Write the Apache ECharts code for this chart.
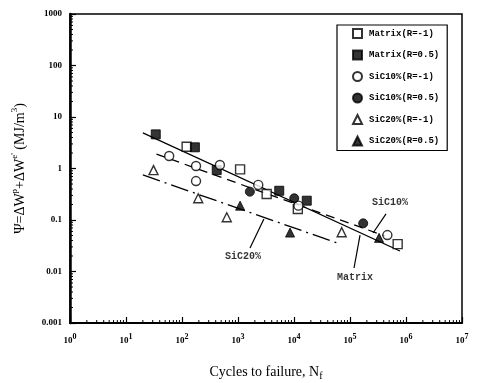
<!DOCTYPE html>
<html>
<head>
<meta charset="utf-8">
<script src="https://cdn.jsdelivr.net/npm/echarts@6/dist/echarts.min.js"></script>
<style>
  html, body { margin: 0; padding: 0; background: #fff; }
  #chart { width: 477px; height: 383px; }
</style>
</head>
<body>
<div id="chart"></div>
<script>
// Energy parameter vs. cycles to failure, log-log
const matrixR1   = [[121, 2.65], [1090, 0.96], [3250, 0.32], [11700, 0.164], [710000, 0.034]];
const matrixR05  = [[34, 4.6], [170, 2.58], [417, 0.93], [5450, 0.37], [16900, 0.237]];
const sic10R1    = [[59, 1.75], [178, 1.12], [178, 0.57], [475, 1.17], [2300, 0.48], [12000, 0.19], [465000, 0.051]];
const sic10R05   = [[1630, 0.355], [10100, 0.264], [172000, 0.086]];
const sic20R1    = [[31, 0.93], [195, 0.264], [630, 0.113], [71000, 0.058]];
const sic20R05   = [[1090, 0.19], [8500, 0.057], [330000, 0.045]];

// Fitted lines (end points)
const matrixFit = [[20, 4.9], [780000, 0.025]];
const sic10Fit  = [[35, 1.9], [420000, 0.049]];
const sic20Fit  = [[20, 0.75], [58000, 0.036]];

// Callouts: label position and leader line
const callouts = [
  { text: 'SiC10%', at: [518000, 0.22], line: [[440000, 0.131], [258000, 0.056]] },
  { text: 'Matrix', at: [123000, 0.0078], line: [[118000, 0.0117], [151000, 0.051]] },
  { text: 'SiC20%', at: [1230, 0.02], line: [[1640, 0.0286], [2900, 0.105]] }
];

const xTickExp = [0, 1, 2, 3, 4, 5, 6, 7];
const yTickLabels = { '0.001': '0.001', '0.01': '0.01', '0.1': '0.1', '1': '1', '10': '10', '100': '100', '1000': '1000' };

// minor tick positions (2..9 within each decade)
const minorX = [], minorY = [];
for (let e = 0; e < 7; e++) for (let k = 2; k <= 9; k++) minorX.push(k * Math.pow(10, e));
for (let e = -3; e < 3; e++) for (let k = 2; k <= 9; k++) minorY.push(+(k * Math.pow(10, e)).toPrecision(3));

const monoFont = '"Liberation Mono", "DejaVu Sans Mono", monospace';
const serifFont = '"Liberation Serif", "DejaVu Serif", serif';

const openStyle = { color: '#fff', borderColor: '#000', borderWidth: 1.4 };
const fillStyle = { color: '#000', borderColor: '#000', borderWidth: 1 };

function scatter(name, data, symbol, style, size) {
  return { name, type: 'scatter', data, symbol, symbolSize: size, itemStyle: style, z: 5 };
}
function fitLine(data, type) {
  return { type: 'line', data, symbol: 'none', silent: true, z: 3,
           lineStyle: { color: '#000', width: 1.3, type } };
}

const series = [
  scatter('Matrix(R=-1)', matrixR1, 'rect', openStyle, 9),
  scatter('Matrix(R=0.5)', matrixR05, 'rect', fillStyle, 9),
  scatter('SiC10%(R=-1)', sic10R1, 'circle', openStyle, 9),
  scatter('SiC10%(R=0.5)', sic10R05, 'circle', fillStyle, 9),
  scatter('SiC20%(R=-1)', sic20R1, 'triangle', openStyle, 9),
  scatter('SiC20%(R=0.5)', sic20R05, 'triangle', fillStyle, 9),
  fitLine(matrixFit, 'solid'),
  fitLine(sic10Fit, [9, 6]),
  fitLine(sic20Fit, [18, 5, 2, 5])
];

callouts.forEach(c => {
  series.push({ type: 'line', data: c.line, symbol: 'none', silent: true, z: 3,
                lineStyle: { color: '#000', width: 1.2 } });
  series.push({ type: 'scatter', data: [c.at], symbolSize: 0, silent: true, z: 6,
                label: { show: true, position: 'inside', formatter: c.text,
                         fontFamily: monoFont, fontWeight: 'bold', fontSize: 10, color: '#000' } });
});

// inward minor ticks along left and bottom axes
series.push({
  type: 'custom', silent: true, z: 2,
  data: minorY.map(v => [1, v]),
  renderItem: (params, api) => {
    const p = api.coord([api.value(0), api.value(1)]);
    return { type: 'line', shape: { x1: p[0], y1: p[1], x2: p[0] + 3, y2: p[1] },
             style: { stroke: '#000', lineWidth: 1 } };
  }
});
series.push({
  type: 'custom', silent: true, z: 2,
  data: minorX.map(v => [v, 0.001]),
  renderItem: (params, api) => {
    const p = api.coord([api.value(0), api.value(1)]);
    return { type: 'line', shape: { x1: p[0], y1: p[1], x2: p[0], y2: p[1] - 3 },
             style: { stroke: '#000', lineWidth: 1 } };
  }
});

const chart = echarts.init(document.getElementById('chart'), null, { renderer: 'canvas' });
chart.setOption({
  animation: false,
  backgroundColor: '#fff',
  grid: { left: 70, right: 15, top: 14, bottom: 60, outerBoundsMode: 'none', containLabel: false,
          show: true, borderColor: '#000', borderWidth: 1.5, backgroundColor: 'transparent' },
  legend: {
    data: ['Matrix(R=-1)', 'Matrix(R=0.5)', 'SiC10%(R=-1)', 'SiC10%(R=0.5)', 'SiC20%(R=-1)', 'SiC20%(R=0.5)'],
    orient: 'vertical', left: 337, top: 25, width: 115,
    padding: [3, 8, 4, 15], itemGap: 10.5, itemWidth: 9, itemHeight: 9,
    borderColor: '#000', borderWidth: 1.2, backgroundColor: '#fff',
    textStyle: { fontFamily: monoFont, fontWeight: 'bold', fontSize: 9, color: '#000', padding: [0, 0, 0, 2] },
    selectedMode: false
  },
  xAxis: {
    type: 'log', logBase: 10, min: 1, max: 1e7,
    name: 'Cycles to failure, N{sub|f}', nameLocation: 'middle', nameGap: 40,
    nameTextStyle: { fontFamily: serifFont, fontSize: 14, color: '#000',
                     rich: { sub: { fontFamily: serifFont, fontSize: 10, padding: [8, 0, 0, 0], color: '#000' } } },
    axisLine: { show: true, lineStyle: { color: '#000', width: 2 } },
    axisTick: { show: true, inside: true, length: 6, lineStyle: { color: '#000', width: 1.2 } },
    splitLine: { show: false },
    axisLabel: {
      margin: 10, color: '#000',
      formatter: v => { const e = Math.round(Math.log10(v)); return xTickExp.includes(e) ? '{b|10}{s|' + e + '}' : ''; },
      rich: {
        b: { fontFamily: serifFont, fontWeight: 'bold', fontSize: 9, color: '#000' },
        s: { fontFamily: serifFont, fontWeight: 'bold', fontSize: 8, color: '#000', padding: [0, 0, 8, 0] }
      }
    }
  },
  yAxis: {
    type: 'log', logBase: 10, min: 0.001, max: 1000,
    name: 'Ψ=ΔW{s|p}+ΔW{s|e\'} (MJ/m{s|3})', nameLocation: 'middle', nameGap: 39, nameRotate: 90,
    nameTextStyle: { fontFamily: serifFont, fontSize: 14, color: '#000',
                     rich: { s: { fontFamily: serifFont, fontSize: 9, padding: [0, 0, 12, 0], color: '#000' } } },
    axisLine: { show: true, lineStyle: { color: '#000', width: 2.5 } },
    axisTick: { show: true, inside: true, length: 6, lineStyle: { color: '#000', width: 1.2 } },
    splitLine: { show: false },
    axisLabel: {
      margin: 8, color: '#000', fontFamily: serifFont, fontWeight: 'bold', fontSize: 9,
      formatter: v => { const k = String(+v.toPrecision(3)); return yTickLabels[k] || ''; }
    }
  },
  series
});
</script>
</body>
</html>
